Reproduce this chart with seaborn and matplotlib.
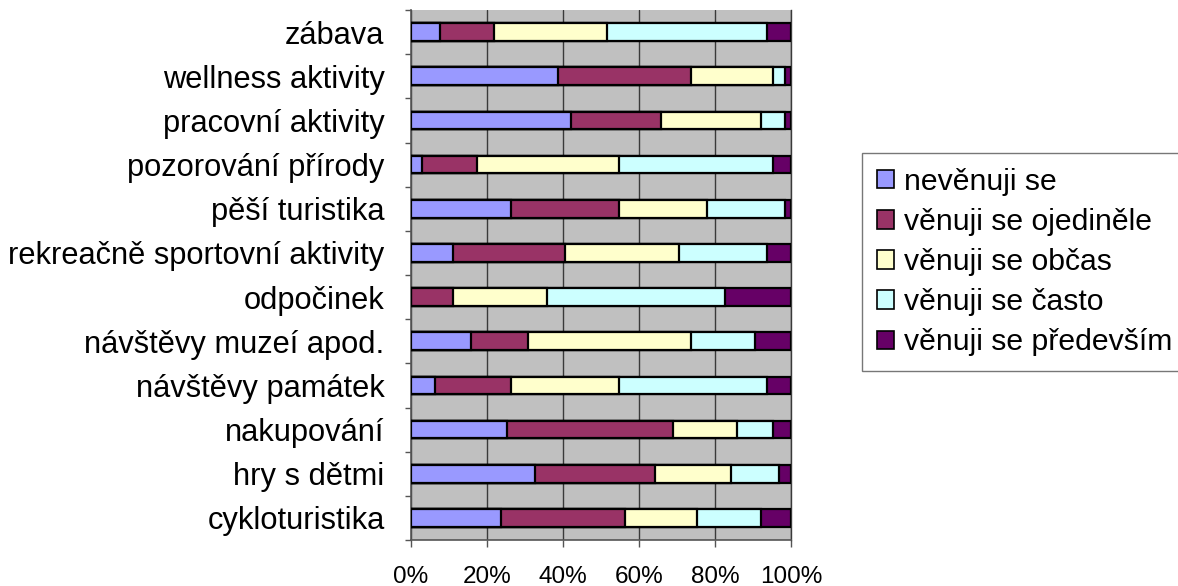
import numpy as np
import pandas as pd
import matplotlib
matplotlib.use("Agg")
import matplotlib.pyplot as plt
from matplotlib.patches import Patch
from matplotlib.ticker import FixedLocator
import seaborn as sns

categories = ["zábava", "wellness aktivity", "pracovní aktivity", "pozorování přírody",
              "pěší turistika", "rekreačně sportovní aktivity", "odpočinek",
              "návštěvy muzeí apod.", "návštěvy památek", "nakupování",
              "hry s dětmi", "cykloturistika"]
nevenuji = [7.6, 38.8, 42.1, 3.0, 26.3, 11.0, 0.0, 15.7, 6.3, 25.2, 32.5, 23.6]
ojedinele = [14.3, 34.9, 23.7, 14.3, 28.5, 29.6, 11.0, 15.2, 20.0, 43.7, 31.8, 32.6]
obcas = [29.6, 21.6, 26.4, 37.5, 23.1, 29.8, 24.7, 42.8, 28.5, 16.9, 20.0, 19.0]
casto = [42.2, 3.2, 6.3, 40.5, 20.4, 23.3, 47.0, 16.9, 38.9, 9.5, 12.6, 17.0]
predevsim = [6.3, 1.5, 1.5, 4.7, 1.7, 6.3, 17.3, 9.4, 6.3, 4.7, 3.1, 7.8]
series_names = ["nevěnuji se", "věnuji se ojediněle", "věnuji se občas",
                "věnuji se často", "věnuji se především"]
colors = ["#9999FF", "#993366", "#FFFFCC", "#CCFFFF", "#660066"]
tick_labels = ["0%", "20%", "40%", "60%", "80%", "100%"]

sns.set_style("white")
plt.rcParams["font.family"] = ["Liberation Sans", "DejaVu Sans"]
plt.rcParams["text.color"] = "black"
plt.rcParams["xtick.labelcolor"] = "black"
plt.rcParams["ytick.labelcolor"] = "black"

series = [nevenuji, ojedinele, obcas, casto, predevsim]
vals = np.array(series, dtype=float)
vals = vals / vals.sum(axis=0) * 100
cum = np.cumsum(vals, axis=0)

fig = plt.figure(figsize=(11.78, 5.86), dpi=100)
ax = fig.add_axes([411 / 1178, 1 - 540 / 586, 380 / 1178, 530 / 586])
ax.set_facecolor("#C0C0C0")

for i in range(len(series) - 1, -1, -1):
    df = pd.DataFrame({"cat": categories, "val": cum[i]})
    sns.barplot(data=df, x="val", y="cat", orient="h", color=colors[i],
                width=0.4, edgecolor="black", linewidth=1.6, saturation=1,
                ax=ax, zorder=3)

ax.set_xlim(0, 100)
ax.set_ylim(len(categories) - 0.5, -0.5)
ax.set_xlabel("")
ax.set_ylabel("")

ax.set_xticks([0, 20, 40, 60, 80, 100])
ax.set_xticklabels(tick_labels, fontsize=17.5)
ax.xaxis.grid(True, color="#3a3a3a", linewidth=1.0, zorder=0)
ax.set_axisbelow(True)
ax.tick_params(axis="x", which="major", direction="out", length=5, width=1,
               color="#555555", pad=13.5, bottom=True)

ax.set_yticks(range(len(categories)))
ax.set_yticklabels(categories, fontsize=22.2)
ax.tick_params(axis="y", which="major", length=0, pad=19)
ax.yaxis.set_minor_locator(FixedLocator(np.arange(-0.5, len(categories), 1)))
ax.tick_params(axis="y", which="minor", direction="out", length=4.5, width=1,
               color="#555555", left=True)

ax.spines["top"].set_visible(False)
ax.spines["right"].set_color("#3a3a3a")
ax.spines["right"].set_linewidth(1.0)
ax.spines["left"].set_color("#555555")
ax.spines["bottom"].set_color("#555555")
ax.spines["left"].set_linewidth(1.2)
ax.spines["bottom"].set_linewidth(1.2)

handles = [Patch(facecolor=c, edgecolor="black", linewidth=1.2) for c in colors]
leg = fig.legend(handles, series_names, loc="upper left",
                 bbox_to_anchor=(862 / 1178, 1 - 153 / 586),
                 fontsize=21.7, frameon=True, fancybox=False, edgecolor="#555555",
                 handlelength=0.55, handleheight=0.55, handletextpad=0.33,
                 labelspacing=0.4, borderpad=0.5, borderaxespad=0)
leg.get_frame().set_linewidth(1.0)

fig.savefig("out.png", dpi=100)
